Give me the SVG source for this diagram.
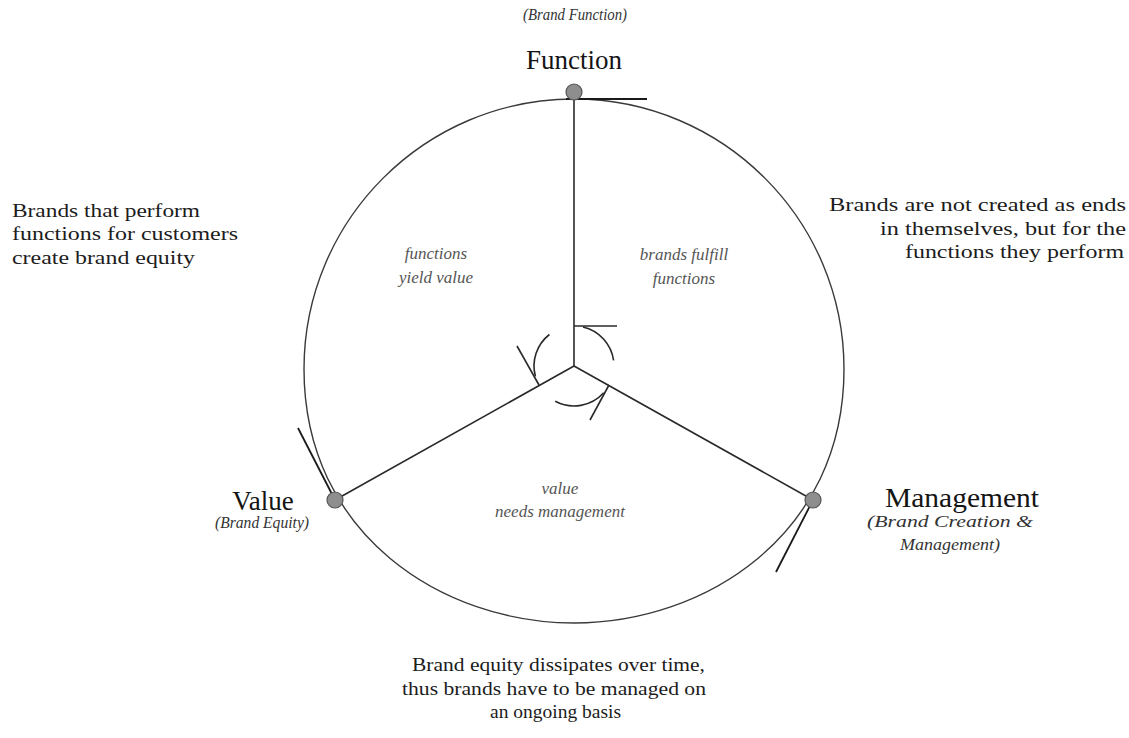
<svg xmlns="http://www.w3.org/2000/svg" width="1129" height="738" viewBox="0 0 1129 738">
<style>
.bg{fill:#ffffff}
.ring{fill:none;stroke:#3a3a3a;stroke-width:1.4}
.ln{fill:none;stroke:#2a2a2a;stroke-width:1.6}
.tick{fill:none;stroke:#1a1a1a;stroke-width:1.8}
.node{fill:#8e8e8e;stroke:#555;stroke-width:1.2}
.lbl{font-family:"Liberation Serif","Times New Roman",serif;font-size:27px;fill:#141414;text-anchor:middle}
.sub{font-family:"Liberation Serif","Times New Roman",serif;font-size:16px;font-style:italic;fill:#333;text-anchor:middle}
.note{font-family:"Liberation Serif","Times New Roman",serif;font-size:19px;fill:#1c1c1c}
.mid{font-family:"Liberation Serif","Times New Roman",serif;font-size:17px;font-style:italic;fill:#555;text-anchor:middle}
</style>
<rect class="bg" x="0" y="0" width="1129" height="738"/>
<g id="cycle">
<path class="ring" d="M574,99 C723,99 844,220 844,369 C844,535 705,623 574,623 C443,623 304,535 304,369 C304,220 425,99 574,99 Z"/>
</g>
<g id="connectors">
<line class="ln" x1="574" y1="99" x2="574" y2="366"/>
<line class="ln" x1="574" y1="366" x2="335" y2="500"/>
<line class="ln" x1="574" y1="366" x2="813" y2="500"/>
<line class="tick" x1="566" y1="99" x2="647" y2="99"/>
<line class="tick" x1="335" y1="500" x2="298" y2="428"/>
<line class="tick" x1="813" y1="500" x2="776" y2="572"/>
<line class="ln" x1="574" y1="326" x2="617" y2="326"/>
<path class="ln" d="M583,327 A40,40 0 0 1 613.6,360.4"/>
<line class="ln" x1="539" y1="385" x2="517" y2="346"/>
<path class="ln" d="M535.4,376.4 A40,40 0 0 1 549.4,334.5"/>
<line class="ln" x1="609" y1="385" x2="590" y2="420"/>
<path class="ln" d="M603.7,392.8 A40,40 0 0 1 555.2,401.3"/>
</g>
<g id="node-function">
<circle class="node" cx="574" cy="92" r="8"/>
<text class="sub" x="575" y="20" textLength="104" lengthAdjust="spacingAndGlyphs">(Brand Function)</text>
<text class="lbl" x="574" y="69">Function</text>
</g>
<g id="node-value">
<circle class="node" cx="335" cy="500" r="8"/>
<text class="lbl" x="263" y="510">Value</text>
<text class="sub" x="262" y="528" textLength="94" lengthAdjust="spacingAndGlyphs">(Brand Equity)</text>
</g>
<g id="node-management">
<circle class="node" cx="813" cy="500" r="8"/>
<text class="lbl" x="962" y="507" textLength="154" lengthAdjust="spacingAndGlyphs">Management</text>
<text class="sub" x="950" y="527" textLength="166" lengthAdjust="spacingAndGlyphs">(Brand Creation &amp;</text>
<text class="sub" x="950" y="550" textLength="100" lengthAdjust="spacingAndGlyphs">Management)</text>
</g>
<g id="label-left">
<text class="note" x="12" y="217" textLength="188" lengthAdjust="spacingAndGlyphs">Brands that perform</text>
<text class="note" x="12" y="240" textLength="226" lengthAdjust="spacingAndGlyphs">functions for customers</text>
<text class="note" x="12" y="264" textLength="183" lengthAdjust="spacingAndGlyphs">create brand equity</text>
</g>
<g id="label-right">
<text class="note" x="829" y="211" textLength="297" lengthAdjust="spacingAndGlyphs">Brands are not created as ends</text>
<text class="note" x="880" y="235" textLength="246" lengthAdjust="spacingAndGlyphs">in themselves, but for the</text>
<text class="note" x="905" y="258" textLength="219" lengthAdjust="spacingAndGlyphs">functions they perform</text>
</g>
<g id="label-bottom">
<text class="note" x="412" y="671" textLength="293" lengthAdjust="spacingAndGlyphs">Brand equity dissipates over time,</text>
<text class="note" x="402" y="695" textLength="304" lengthAdjust="spacingAndGlyphs">thus brands have to be managed on</text>
<text class="note" x="490" y="718" textLength="131" lengthAdjust="spacingAndGlyphs">an ongoing basis</text>
</g>
<g id="label-segments">
<text class="mid" x="436" y="259">functions</text>
<text class="mid" x="436" y="283">yield value</text>
<text class="mid" x="684" y="260">brands fulfill</text>
<text class="mid" x="684" y="284">functions</text>
<text class="mid" x="560" y="494">value</text>
<text class="mid" x="560" y="517">needs management</text>
</g>
</svg>
